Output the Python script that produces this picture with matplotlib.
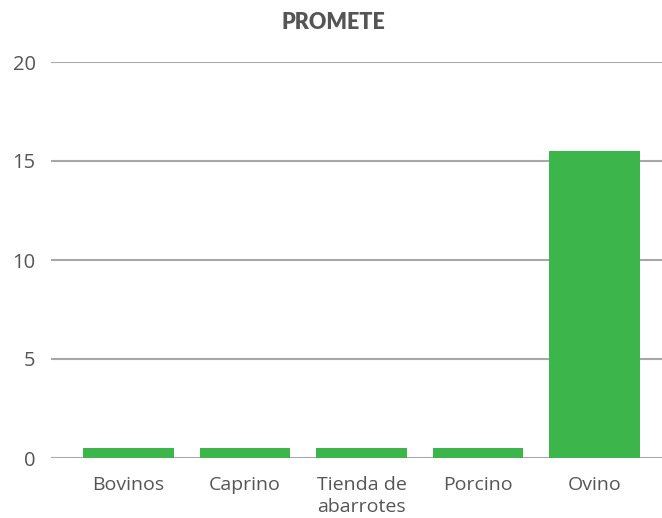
import matplotlib
matplotlib.use("Agg")
import matplotlib.pyplot as plt

categories = ["Bovinos", "Caprino", "Tienda de\nabarrotes", "Porcino", "Ovino"]
values = [0.5, 0.5, 0.5, 0.5, 15.5]
yticks = [0, 5, 10, 15, 20]

plt.rcParams['font.family'] = ['Open Sans', 'DejaVu Sans']

fig = plt.figure(figsize=(6.62, 5.18), dpi=100)
ax = fig.add_axes([51/662, 60/518, 1 - 51/662, (458-62)/518])

x = list(range(len(categories)))
ax.bar(x, values, width=0.78, color="#3cb54a", zorder=3)
ax.set_ylim(0, 20)
ax.set_xlim(-0.665, 4.58)
ax.set_yticks(yticks)
ax.yaxis.grid(True, color="#a7a7a9", linewidth=1.5, zorder=0)
ax.set_axisbelow(True)
for s in ax.spines.values():
    s.set_visible(False)
ax.tick_params(axis='y', length=0, pad=11, labelsize=14.5, labelcolor="#555555")
ax.tick_params(axis='x', length=0, pad=13, labelsize=14, labelcolor="#555555")
ax.set_xticks(x)
ax.set_xticklabels(categories, linespacing=1.3)
fig.text(0.503, 0.957, "PROMETE", ha="center", va="center", fontsize=15.5,
         fontweight="heavy", color="#555555", family=["Lato", "DejaVu Sans"])
fig.savefig("out.png", dpi=100)
